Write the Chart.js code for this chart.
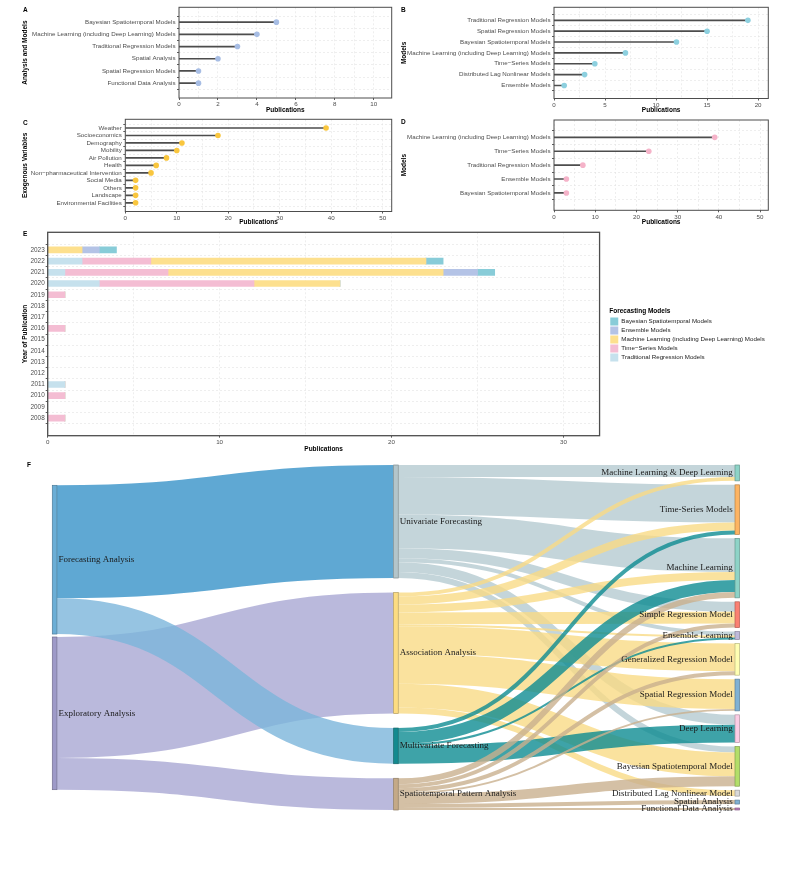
<!DOCTYPE html>
<html>
<head>
<meta charset="utf-8">
<script src="https://cdn.jsdelivr.net/npm/chart.js@4.4.1/dist/chart.umd.min.js"></script>
<style>
  body { margin: 0; background: #fff; }
  #fig { position: relative; width: 800px; height: 870px; overflow: hidden; }
  #fig canvas { position: absolute; }
  .tag { position: absolute; font: bold 6.5px "Liberation Sans", Arial, sans-serif; line-height: 1; color: #000; }
</style>
</head>
<body>
<div id="fig">
  <canvas id="chartA" width="400" height="114" style="left:0;top:0"></canvas>
  <canvas id="chartB" width="400" height="114" style="left:400px;top:0"></canvas>
  <canvas id="chartC" width="400" height="114" style="left:0;top:112px"></canvas>
  <canvas id="chartD" width="400" height="114" style="left:400px;top:112px"></canvas>
  <canvas id="chartE" width="800" height="228" style="left:0;top:225px"></canvas>
  <canvas id="chartF" width="800" height="414" style="left:0;top:456px"></canvas>
  <div class="tag" style="left:23px;top:7px">A</div>
  <div class="tag" style="left:401px;top:7px">B</div>
  <div class="tag" style="left:23px;top:120px">C</div>
  <div class="tag" style="left:401px;top:119px">D</div>
  <div class="tag" style="left:23px;top:231px">E</div>
  <div class="tag" style="left:27px;top:462px">F</div>
</div>
<script>
// ---- data ----
const labelsA = ['Bayesian Spatiotemporal Models', 'Machine Learning (including Deep Learning) Models',
  'Traditional Regression Models', 'Spatial Analysis', 'Spatial Regression Models', 'Functional Data Analysis'];
const valuesA = [5, 4, 3, 2, 1, 1];

const labelsB = ['Traditional Regression Models', 'Spatial Regression Models', 'Bayesian Spatiotemporal Models',
  'Machine Learning (including Deep Learning) Models', 'Time\u2212Series Models', 'Distributed Lag Nonlinear Models', 'Ensemble Models'];
const valuesB = [19, 15, 12, 7, 4, 3, 1];

const labelsC = ['Weather', 'Socioeconomics', 'Demography', 'Mobility', 'Air Pollution', 'Health',
  'Non\u2212pharmaceutical Intervention', 'Social Media', 'Others', 'Landscape', 'Environmental Facilities'];
const valuesC = [39, 18, 11, 10, 8, 6, 5, 2, 2, 2, 2];

const labelsD = ['Machine Learning (including Deep Learning) Models', 'Time\u2212Series Models',
  'Traditional Regression Models', 'Ensemble Models', 'Bayesian Spatiotemporal Models'];
const valuesD = [39, 23, 7, 3, 3];

const years = [2008, 2009, 2010, 2011, 2012, 2013, 2014, 2015, 2016, 2017, 2018, 2019, 2020, 2021, 2022, 2023];
const tradRegByYear    = [0, 0, 0, 1, 0, 0, 0, 0, 0, 0, 0, 0, 3, 1, 2, 0];
const timeSeriesByYear = [1, 0, 1, 0, 0, 0, 0, 0, 1, 0, 0, 1, 9, 6, 4, 0];
const mlByYear         = [0, 0, 0, 0, 0, 0, 0, 0, 0, 0, 0, 0, 5, 16, 16, 2];
const ensembleByYear   = [0, 0, 0, 0, 0, 0, 0, 0, 0, 0, 0, 0, 0, 2, 0, 1];
const bayesByYear      = [0, 0, 0, 0, 0, 0, 0, 0, 0, 0, 0, 0, 0, 1, 1, 1];
const modelNames = ['Traditional Regression Models', 'Time\u2212Series Models',
  'Machine Learning (including Deep Learning) Models', 'Ensemble Models', 'Bayesian Spatiotemporal Models'];

const sankeyColumns = [
  ['Forecasting Analysis', 'Exploratory Analysis'],
  ['Univariate Forecasting', 'Association Analysis', 'Multivariate Forecasting', 'Spatiotemporal Pattern Analysis'],
  ['Machine Learning & Deep Learning', 'Time-Series Models', 'Machine Learning', 'Simple Regression Model',
   'Ensemble Learning', 'Generalized Regression Model', 'Spatial Regression Model', 'Deep Learning',
   'Bayesian Spatiotemporal Model', 'Distributed Lag Nonlinear Model', 'Spatial Analysis', 'Functional Data Analysis']
];
const linkSource = [
  'Forecasting Analysis', 'Exploratory Analysis', 'Forecasting Analysis', 'Exploratory Analysis',
  'Univariate Forecasting', 'Univariate Forecasting', 'Univariate Forecasting', 'Univariate Forecasting',
  'Univariate Forecasting', 'Univariate Forecasting', 'Univariate Forecasting',
  'Association Analysis', 'Association Analysis', 'Association Analysis', 'Association Analysis', 'Association Analysis',
  'Association Analysis', 'Association Analysis', 'Association Analysis', 'Association Analysis',
  'Multivariate Forecasting', 'Multivariate Forecasting', 'Multivariate Forecasting', 'Multivariate Forecasting',
  'Spatiotemporal Pattern Analysis', 'Spatiotemporal Pattern Analysis', 'Spatiotemporal Pattern Analysis',
  'Spatiotemporal Pattern Analysis', 'Spatiotemporal Pattern Analysis', 'Spatiotemporal Pattern Analysis',
  'Spatiotemporal Pattern Analysis'
];
const linkTarget = [
  'Univariate Forecasting', 'Association Analysis', 'Multivariate Forecasting', 'Spatiotemporal Pattern Analysis',
  'Machine Learning & Deep Learning', 'Time-Series Models', 'Machine Learning', 'Simple Regression Model',
  'Ensemble Learning', 'Deep Learning', 'Bayesian Spatiotemporal Model',
  'Machine Learning & Deep Learning', 'Time-Series Models', 'Machine Learning', 'Simple Regression Model', 'Ensemble Learning',
  'Generalized Regression Model', 'Spatial Regression Model', 'Bayesian Spatiotemporal Model', 'Distributed Lag Nonlinear Model',
  'Time-Series Models', 'Machine Learning', 'Ensemble Learning', 'Deep Learning',
  'Machine Learning', 'Simple Regression Model', 'Generalized Regression Model', 'Spatial Regression Model',
  'Bayesian Spatiotemporal Model', 'Spatial Analysis', 'Functional Data Analysis'
];
const linkValue = [
  57, 61, 18, 16,
  6, 19, 17, 5, 2, 5, 3,
  2, 4, 4, 6, 1, 14, 15, 12, 3,
  2, 6, 1, 9,
  3, 2, 2, 1, 5, 2, 1
];

// ---- styles ----
Chart.defaults.font.family = '"Liberation Sans", Arial, Helvetica, sans-serif';
Chart.defaults.color = '#4d4d4d';
const TICK_FONT = { size: 6.2 };
const TITLE_FONT = { size: 6.5, weight: 'bold', lineHeight: 1.2 };
const GRID = '#e3e3e3';

const modelColors = ['#c6e1ed', '#f4bdd3', '#fde08e', '#b4c3e6', '#88ccd8'];

const nodeColors = {
  'Forecasting Analysis': '#6baed6', 'Exploratory Analysis': '#9e9ac8',
  'Univariate Forecasting': '#b3c5ca', 'Association Analysis': '#fcdc82',
  'Multivariate Forecasting': '#138a8f', 'Spatiotemporal Pattern Analysis': '#c4a987',
  'Machine Learning & Deep Learning': '#8dd3c7', 'Time-Series Models': '#fdb462', 'Machine Learning': '#8dd3c7',
  'Simple Regression Model': '#fb8072', 'Ensemble Learning': '#bebada', 'Generalized Regression Model': '#ffffb3',
  'Spatial Regression Model': '#80b1d3', 'Deep Learning': '#fccde5', 'Bayesian Spatiotemporal Model': '#b3de69',
  'Distributed Lag Nonlinear Model': '#d9d9d9', 'Spatial Analysis': '#80b1d3', 'Functional Data Analysis': '#bc80bd'
};
const linkColors = {
  'Forecasting Analysis': 'rgba(55,146,200,0.8)',
  'Exploratory Analysis': 'rgba(169,167,211,0.8)',
  'Univariate Forecasting': 'rgba(181,203,209,0.8)',
  'Association Analysis': 'rgba(249,219,134,0.8)',
  'Multivariate Forecasting': 'rgba(14,140,146,0.8)',
  'Spatiotemporal Pattern Analysis': 'rgba(201,176,143,0.8)'
};
const linkColorOverride = { 'Forecasting Analysis>Multivariate Forecasting': 'rgba(124,181,219,0.8)' };

const panelBorder = {
  id: 'panelBorder',
  afterDraw(chart, args, opts) {
    const { ctx, chartArea: a } = chart;
    ctx.save();
    ctx.strokeStyle = opts.color || '#4d4d4d';
    ctx.lineWidth = opts.width || 1;
    ctx.strokeRect(a.left, a.top, a.right - a.left, a.bottom - a.top);
    ctx.restore();
  }
};

function valueAxis(max, major, minor, height, title) {
  return {
    type: 'linear', min: 0, max: max,
    afterBuildTicks: s => {
      const t = [];
      for (let v = 0; v <= max + 1e-9; v += minor) t.push({ value: v });
      s.ticks = t;
    },
    afterFit: s => { s.height = height; },
    ticks: { font: TICK_FONT, padding: 1, autoSkip: false, maxRotation: 0,
      callback: v => (v % major === 0 ? String(v) : '') },
    grid: { color: GRID, lineWidth: 0.6, tickLength: 2, tickWidth: 0.8,
      tickColor: c => (c.tick && c.tick.value % major === 0 ? '#333' : 'rgba(0,0,0,0)') },
    border: { display: false, dash: [2, 2] },
    title: { display: true, text: title, font: TITLE_FONT, color: '#000', padding: 0 }
  };
}

function indexAxis(labels, width, title) {
  const n = labels.length;
  return {
    type: 'linear', min: 0.4, max: n + 0.6,
    afterBuildTicks: s => { s.ticks = labels.map((_, i) => ({ value: n - i })); },
    afterFit: s => { s.width = width; },
    ticks: { font: TICK_FONT, padding: 1.5, autoSkip: false, callback: v => labels[n - v] },
    grid: { color: GRID, lineWidth: 0.6, tickLength: 2, tickWidth: 0.8, tickColor: '#333' },
    border: { display: false, dash: [2, 2] },
    title: { display: true, text: title, font: TITLE_FONT, color: '#000', padding: 0 }
  };
}

function lollipop(id, labels, values, color, cfg) {
  const n = labels.length;
  const pts = values.map((v, i) => ({ x: v, y: n - i }));
  return new Chart(document.getElementById(id), {
    type: 'scatter',
    data: {
      datasets: [
        { type: 'scatter', data: pts, backgroundColor: color, pointRadius: 2.8, pointHoverRadius: 2.8, borderWidth: 0 },
        { type: 'bar', indexAxis: 'y', data: pts, backgroundColor: '#4d4d4d', barThickness: 1 }
      ]
    },
    options: {
      responsive: false, animation: false,
      layout: { padding: cfg.padding },
      plugins: { legend: { display: false }, tooltip: { enabled: false }, panelBorder: {} },
      scales: {
        x: valueAxis(cfg.xMax, cfg.major, cfg.minor, cfg.xHeight, 'Publications'),
        y: indexAxis(labels, cfg.yWidth, cfg.yTitle)
      }
    },
    plugins: [panelBorder]
  });
}

lollipop('chartA', labelsA, valuesA, '#a7bde4', {
  xMax: 10.92, major: 2, minor: 1, xHeight: 16, yWidth: 158, yTitle: 'Analysis and Models',
  padding: { left: 21, top: 7.3, right: 8.3, bottom: 0 }
});
lollipop('chartB', labelsB, valuesB, '#8dd0df', {
  xMax: 21, major: 5, minor: 2.5, xHeight: 15.5, yWidth: 154, yTitle: 'Models',
  padding: { left: 0, top: 7.3, right: 31.7, bottom: 0 }
});
lollipop('chartC', labelsC, valuesC, '#f9c63e', {
  xMax: 51.75, major: 10, minor: 5, xHeight: 14.5, yWidth: 104.3, yTitle: 'Exogenous Variables',
  padding: { left: 21, top: 7.3, right: 8.3, bottom: 0 }
});
lollipop('chartD', labelsD, valuesD, '#f5b3c9', {
  xMax: 52, major: 10, minor: 5, xHeight: 15.7, yWidth: 154, yTitle: 'Models',
  padding: { left: 0, top: 8, right: 31.7, bottom: 0 }
});

// ---- E: stacked bars by year ----
const seriesByYear = [tradRegByYear, timeSeriesByYear, mlByYear, ensembleByYear, bayesByYear];
new Chart(document.getElementById('chartE'), {
  type: 'bar',
  data: {
    datasets: modelNames.map((name, k) => ({
      label: name,
      data: years.map((yr, i) => ({ x: seriesByYear[k][i], y: yr })),
      backgroundColor: modelColors[k],
      borderWidth: 0,
      barThickness: 6
    }))
  },
  options: {
    indexAxis: 'y', responsive: false, animation: false,
    layout: { padding: { left: 21, top: 7.3, right: 25.2, bottom: 0 } },
    plugins: {
      tooltip: { enabled: false },
      panelBorder: { width: 1.3 },
      legend: {
        position: 'right', align: 'start', reverse: true, maxWidth: 240,
        title: { display: true, text: 'Forecasting Models', color: '#000', position: 'start',
          font: { size: 6.5, weight: 'bold' }, padding: { top: 75.5, bottom: 1 } },
        labels: { boxWidth: 8, boxHeight: 8, padding: 1, color: '#1a1a1a', font: { size: 6.2 } }
      }
    },
    scales: {
      x: Object.assign(valueAxis(32.1, 10, 5, 17.3, 'Publications'), { stacked: true }),
      y: {
        type: 'linear', min: 2007, max: 2024, stacked: true,
        afterBuildTicks: s => { s.ticks = years.map(v => ({ value: v })); },
        afterFit: s => { s.width = 26.7; },
        ticks: { font: { size: 6.4 }, padding: 1, autoSkip: false, callback: v => String(v) },
        grid: { color: GRID, lineWidth: 0.6, tickLength: 2, tickWidth: 0.8, tickColor: '#333' },
        border: { display: false, dash: [2, 2] },
        title: { display: true, text: 'Year of Publication', font: TITLE_FONT, color: '#000', padding: 0 }
      },
      gap: {
        type: 'linear', position: 'right',
        afterFit: s => { s.width = 9.7; },
        ticks: { display: false }, grid: { display: false, drawTicks: false }, border: { display: false }
      }
    }
  },
  plugins: [panelBorder]
});

// ---- F: sankey drawn on the chart's scales ----
const NODE_PAD = 2;      // units between nodes in the fullest column
const OUTER_PAD = 1.5;   // units between the two first-column nodes
const NODE_W = 4.6;      // px

function sankeyLayout() {
  const nodes = {};
  sankeyColumns.forEach((col, c) => col.forEach(name => {
    nodes[name] = { name, col: c, inV: 0, outV: 0, outs: [], ins: [] };
  }));
  const links = linkSource.map((s, i) => ({ s: nodes[s], t: nodes[linkTarget[i]], v: linkValue[i] }));
  links.forEach(l => { l.s.outV += l.v; l.t.inV += l.v; l.s.outs.push(l); l.t.ins.push(l); });
  Object.values(nodes).forEach(n => { n.v = Math.max(n.inV, n.outV); });
  const sums = sankeyColumns.map(col => col.reduce((a, name) => a + nodes[name].v, 0));
  const span = Math.max(...sankeyColumns.map((col, c) => sums[c] + (col.length - 1) * NODE_PAD));
  sankeyColumns.forEach((col, c) => {
    const gap = c === 0 ? OUTER_PAD : (col.length > 1 ? (span - sums[c]) / (col.length - 1) : 0);
    let y = (span - sums[c] - gap * (col.length - 1)) / 2;
    col.forEach(name => { const n = nodes[name]; n.y0 = y; n.y1 = y + n.v; y = n.y1 + gap; });
  });
  Object.values(nodes).forEach(n => {
    let y = n.y0;
    n.outs.slice().sort((a, b) => a.t.y0 - b.t.y0).forEach(l => { l.sy = y; y += l.v; });
    y = n.y0;
    n.ins.slice().sort((a, b) => a.s.y0 - b.s.y0).forEach(l => { l.ty = y; y += l.v; });
  });
  return { nodes, links, span };
}

function darker(hex, f) {
  const n = parseInt(hex.slice(1), 16);
  const r = Math.round(((n >> 16) & 255) * f), g = Math.round(((n >> 8) & 255) * f), b = Math.round((n & 255) * f);
  return `rgb(${r},${g},${b})`;
}

const sankey = sankeyLayout();

const sankeyPlugin = {
  id: 'sankey',
  afterDatasetsDraw(chart) {
    const { ctx, scales: { x, y } } = chart;
    const ky = Math.abs(y.getPixelForValue(1) - y.getPixelForValue(0));
    ctx.save();
    sankey.links.forEach(l => {
      const x0 = x.getPixelForValue(l.s.col) + NODE_W;
      const x1 = x.getPixelForValue(l.t.col);
      const ys = y.getPixelForValue(l.sy + l.v / 2);
      const yt = y.getPixelForValue(l.ty + l.v / 2);
      const xm = (x0 + x1) / 2;
      ctx.beginPath();
      ctx.moveTo(x0, ys);
      ctx.bezierCurveTo(xm, ys, xm, yt, x1, yt);
      ctx.lineWidth = l.v * ky;
      ctx.strokeStyle = linkColorOverride[l.s.name + '>' + l.t.name] || linkColors[l.s.name];
      ctx.stroke();
    });
    Object.values(sankey.nodes).forEach(n => {
      const px = x.getPixelForValue(n.col);
      const top = y.getPixelForValue(n.y0);
      const h = y.getPixelForValue(n.y1) - top;
      ctx.fillStyle = nodeColors[n.name];
      ctx.fillRect(px, top, NODE_W, h);
      ctx.strokeStyle = darker(nodeColors[n.name], 0.72);
      ctx.lineWidth = 0.7;
      ctx.strokeRect(px, top, NODE_W, h);
    });
    ctx.fillStyle = '#1a1a1a';
    ctx.font = '9px "Liberation Serif", "Times New Roman", serif';
    ctx.textBaseline = 'middle';
    Object.values(sankey.nodes).forEach(n => {
      const px = x.getPixelForValue(n.col);
      const cy = y.getPixelForValue((n.y0 + n.y1) / 2);
      if (n.col === sankeyColumns.length - 1) {
        ctx.textAlign = 'right';
        ctx.fillText(n.name, px - 2.3, cy);
      } else {
        ctx.textAlign = 'left';
        ctx.fillText(n.name, px + NODE_W + 1.6, cy);
      }
    });
    ctx.restore();
  }
};

new Chart(document.getElementById('chartF'), {
  type: 'scatter',
  data: { datasets: [] },
  options: {
    responsive: false, animation: false,
    layout: { padding: { left: 52.3, right: 65, top: 9, bottom: 60 } },
    plugins: { legend: { display: false }, tooltip: { enabled: false } },
    scales: {
      x: { type: 'linear', min: 0, max: sankeyColumns.length - 1, display: false },
      y: { type: 'linear', min: 0, max: sankey.span, reverse: true, display: false }
    }
  },
  plugins: [sankeyPlugin]
});
</script>
</body>
</html>
